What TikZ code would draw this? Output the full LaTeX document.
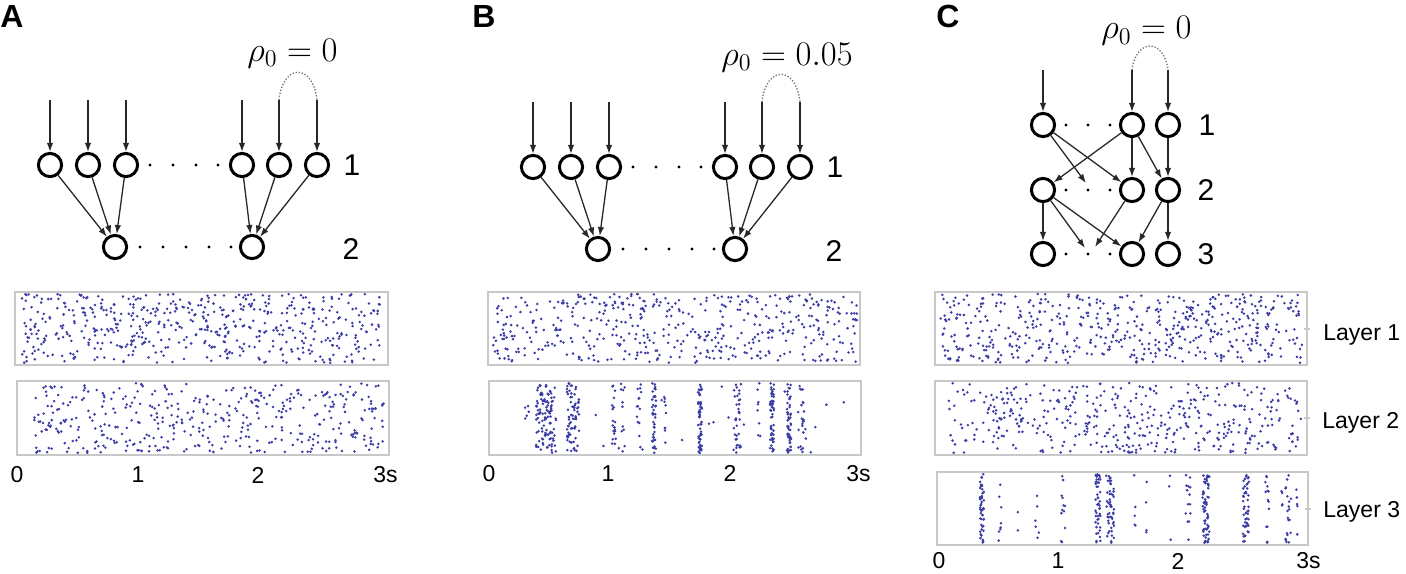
\documentclass[tikz,border=0pt]{standalone}
\usepackage[no-math]{fontspec}
\setmainfont{Liberation Sans}
\usetikzlibrary{arrows.meta}
\definecolor{spkblue}{RGB}{60,60,165}
\definecolor{boxgray}{RGB}{200,200,200}
\definecolor{arcgray}{RGB}{110,110,110}
\definecolor{syngray}{RGB}{40,40,40}
\newcommand\spkrand[6]{\pgfmathsetseed{#6}\foreach \ii in {1,...,#5}{\pgfmathsetmacro\xx{#1+rnd*(#2-#1)}\pgfmathsetmacro\yy{#3+rnd*(#4-#3)}\fill[spk] (\xx,\yy) circle[radius=0.7pt];}}
\newcommand\spkband[6]{\pgfmathsetseed{#6}\foreach \ii in {1,...,#3}{\pgfmathsetmacro\xx{#1+(2*rnd-1)*#2}\pgfmathsetmacro\yy{#4+rnd*(#5-#4)}\fill[spk] (\xx,\yy) circle[radius=0.7pt];}}
\newcommand\netpanel[1]{%
  \node[neuron] (#1a) at (50,165) {};
  \node[neuron] (#1b) at (88,165) {};
  \node[neuron] (#1c) at (126,165) {};
  \node[neuron] (#1d) at (242,165) {};
  \node[neuron] (#1e) at (279,165) {};
  \node[neuron] (#1f) at (317,165) {};
  \node[neuron] (#1g) at (115,247) {};
  \node[neuron] (#1h) at (252,247) {};
  \foreach \nn/\xp in {a/50,b/88,c/126,d/242,e/279,f/317}{\coordinate (#1in\nn) at (\xp,100); \draw[syn] (#1in\nn) -- (#1\nn);}
  \foreach \nn in {a,b,c}{\draw[syn] (#1\nn) -- (#1g);}
  \foreach \nn in {d,e,f}{\draw[syn] (#1\nn) -- (#1h);}
  \draw[corr] (#1ine) .. controls (283,63) and (313,63) .. (#1inf);
  \foreach \xp in {150,173,196,218}{\fill[ndot] (\xp,165) circle[radius=0.8pt];}
  \foreach \xp in {140,163,186,209,231}{\fill[ndot] (\xp,247) circle[radius=0.8pt];}
  \node[llabel] (#1n1) at (352,165) {1};
  \node[llabel] (#1n2) at (351,249) {2};
}
\begin{document}
\begin{tikzpicture}[x=0.5pt,y=-0.5pt,
  neuron/.style={circle,draw=black,line width=1.5pt,minimum size=11.6pt,inner sep=0pt},
  syn/.style={draw=syngray,line width=0.65pt,-{Latex[length=4.5pt,width=3.2pt]}},
  corr/.style={draw=arcgray,line width=0.65pt,dash pattern=on 0.65pt off 0.9pt},
  ndot/.style={fill=black},
  spk/.style={fill=spkblue},
  rbox/.style={draw=boxgray,line width=1pt},
  plabel/.style={font=\fontsize{16}{18}\selectfont\bfseries,inner sep=0pt,anchor=base west},
  llabel/.style={font=\fontsize{15}{17}\selectfont,inner sep=0pt},
  tlabel/.style={font=\fontsize{11.5}{13}\selectfont,inner sep=0pt},
  rholabel/.style={font=\fontsize{17}{20}\selectfont,inner sep=0pt,anchor=base west}]
\useasboundingbox (0,0) rectangle (1406,573);

% panel letters
\node[plabel] (labA) at (0,27) {A};
\node[plabel] (labB) at (472,27) {B};
\node[plabel] (labC) at (936,27) {C};
\node[rholabel] (rhoA) at (247,61) {$\rho_0=0$};
\node[rholabel] (rhoB) at (721,65) {$\rho_0=0.05$};
\node[rholabel] (rhoC) at (1101,39) {$\rho_0=0$};

% networks A and B
\netpanel{A}
\begin{scope}[shift={(483,2)}]
\netpanel{B}
\end{scope}

% network C
\node[neuron] (c11) at (1043,125) {};
\node[neuron] (c12) at (1132,125) {};
\node[neuron] (c13) at (1168,125) {};
\node[neuron] (c21) at (1043,190) {};
\node[neuron] (c22) at (1132,190) {};
\node[neuron] (c23) at (1168,190) {};
\node[neuron] (c31) at (1043,254) {};
\node[neuron] (c32) at (1132,254) {};
\node[neuron] (c33) at (1168,254) {};
\coordinate (cin1) at (1043,70);
\coordinate (cin2) at (1132,70);
\coordinate (cin3) at (1168,70);
\coordinate (cq1) at (1086,183);
\coordinate (cq2) at (1085,248);
\coordinate (cq3) at (1095,247);
\draw[syn] (cin1) -- (c11);
\draw[syn] (cin2) -- (c12);
\draw[syn] (cin3) -- (c13);
\draw[corr] (cin2) .. controls (1136,38) and (1164,38) .. (cin3);
\draw[syn] (c11) -- (cq1);
\draw[syn] (c11) -- (c22);
\draw[syn] (c12) -- (c21);
\draw[syn] (c12) -- (c22);
\draw[syn] (c12) -- (c23);
\draw[syn] (c13) -- (c23);
\draw[syn] (c21) -- (c31);
\draw[syn] (c21) -- (cq2);
\draw[syn] (c21) -- (c32);
\draw[syn] (c22) -- (cq3);
\draw[syn] (c23) -- (c32);
\draw[syn] (c23) -- (c33);
\foreach \yp in {125,190,254}{\foreach \xp in {1066,1088,1110}{\fill[ndot] (\xp,\yp) circle[radius=0.8pt];}}
\node[llabel] (nC1) at (1207,125) {1};
\node[llabel] (nC2) at (1206,190) {2};
\node[llabel] (nC3) at (1206,254) {3};

% raster A
\spkrand{22}{383}{294}{363}{550}{11}
\spkrand{32}{384}{383}{453}{430}{12}
\draw[rbox] (15,292) rectangle (388,365);
\draw[rbox] (17,381) rectangle (389,455);
\node[tlabel] (tA0) at (17,475) {0};
\node[tlabel] (tA1) at (138,475) {1};
\node[tlabel] (tA2) at (258,475) {2};
\node[tlabel,anchor=west] (tA3) at (373,475) {3s};

% raster B
\spkrand{492}{857}{294}{363}{480}{13}
\spkband{546}{10}{110}{383}{453}{21}
\spkband{573}{6}{70}{383}{453}{22}
\spkband{527}{2}{5}{400}{420}{23}
\spkband{614}{2}{20}{383}{453}{24}
\spkband{623}{2}{10}{383}{453}{25}
\spkband{640}{3}{15}{383}{453}{26}
\spkband{654}{2}{40}{383}{453}{27}
\spkband{665}{1}{8}{383}{453}{28}
\spkband{700}{2}{55}{383}{453}{29}
\spkband{737}{4}{35}{383}{453}{30}
\spkband{759}{2}{8}{383}{453}{31}
\spkband{772}{2}{50}{383}{453}{32}
\spkband{789}{2}{50}{383}{453}{33}
\spkband{802}{4}{25}{383}{453}{34}
\spkrand{580}{858}{383}{453}{20}{35}
\draw[rbox] (488,292) rectangle (860,365);
\draw[rbox] (489,381) rectangle (861,455);
\node[tlabel] (tB0) at (489,473.5) {0};
\node[tlabel] (tB1) at (608,473.5) {1};
\node[tlabel] (tB2) at (730,473.5) {2};
\node[tlabel,anchor=west] (tB3) at (846,473.5) {3s};

% raster C
\spkrand{940}{1302}{294}{363}{540}{14}
\spkrand{948}{1302}{383}{453}{450}{15}
\spkband{982}{2}{50}{474}{543}{41}
\spkband{1000}{1.5}{8}{474}{543}{42}
\spkband{1017}{1}{2}{474}{543}{43}
\spkband{1037}{2}{6}{474}{543}{44}
\spkband{1063}{2}{12}{474}{543}{45}
\spkband{1098}{2.5}{45}{474}{543}{46}
\spkband{1110}{4}{50}{474}{543}{47}
\spkband{1135}{1}{5}{474}{543}{48}
\spkband{1147}{1}{4}{474}{543}{49}
\spkband{1170}{1}{3}{474}{543}{50}
\spkband{1188}{2.5}{14}{474}{543}{51}
\spkband{1206}{3.5}{60}{474}{543}{52}
\spkband{1246}{3}{50}{474}{543}{53}
\spkband{1267}{2}{14}{474}{543}{54}
\spkband{1282}{1}{4}{474}{543}{55}
\spkband{1288}{3}{20}{474}{543}{56}
\spkband{1297}{1}{5}{474}{543}{57}
\draw[rbox] (935,292) rectangle (1307,365);
\draw[rbox] (935,381) rectangle (1307,455);
\draw[rbox] (937,472) rectangle (1308,545);
\draw[rbox] (1304,328.5) -- (1310,328.5);
\draw[rbox] (1304,418) -- (1310,418);
\draw[rbox] (1305,508.5) -- (1311,508.5);
\node[tlabel] (tC0) at (939,561) {0};
\node[tlabel] (tC1) at (1058,561) {1};
\node[tlabel] (tC2) at (1178,561) {2};
\node[tlabel,anchor=west] (tC3) at (1296,561) {3s};
\node[tlabel,anchor=base west] (ly1) at (1323,340) {Layer 1};
\node[tlabel,anchor=base west] (ly2) at (1322,428) {Layer 2};
\node[tlabel,anchor=base west] (ly3) at (1323,517) {Layer 3};
\end{tikzpicture}
\end{document}
